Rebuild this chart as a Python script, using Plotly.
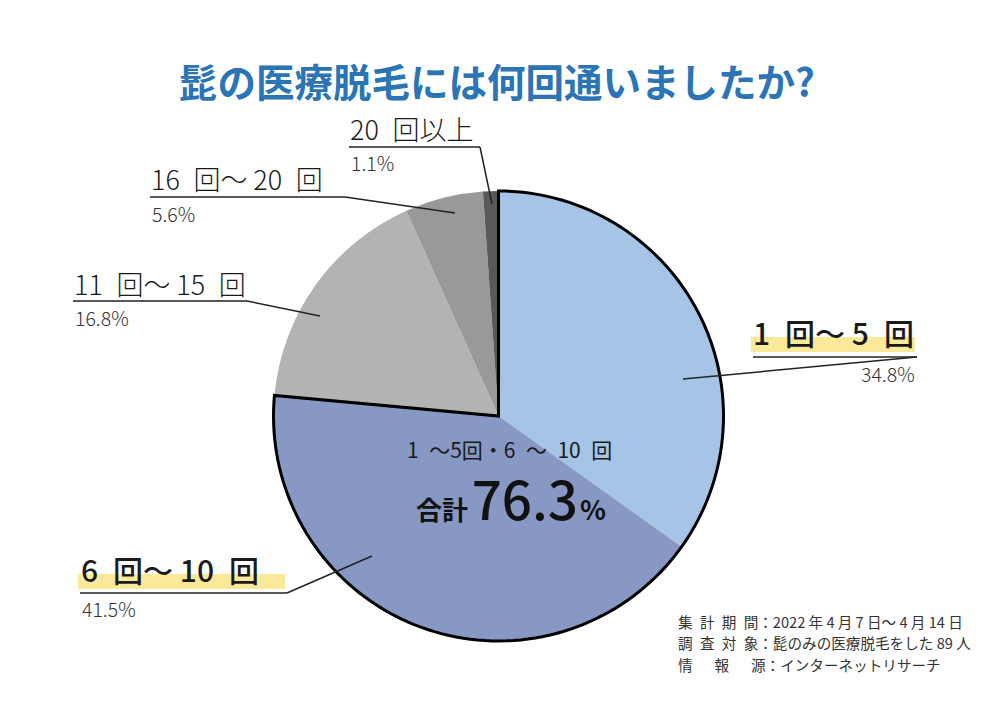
import math
import plotly.graph_objects as go

# ---- data ----
categories = ["1\u2002回〜 5\u2002回", "6\u2002回〜 10\u2002回", "11\u2002回〜 15\u2002回",
              "16\u2002回〜 20\u2002回", "20\u2002回以上"]
values = [34.8, 41.5, 16.8, 5.6, 1.1]
pct_labels = ["34.8%", "41.5%", "16.8%", "5.6%", "1.1%"]
colors = ["#a6c5e6", "#8898c4", "#b3b3b3", "#999999", "#595959"]
title_text = "髭の医療脱毛には何回通いましたか?"
center_line1 = "1\u2002〜5回・6\u2002〜\u200210\u2002回"
total_value = "76.3"
notes = ["集\u2002計\u2002期\u2002間：2022 年 4 月 7 日〜 4 月 14 日",
         "調\u2002査\u2002対\u2002象：髭のみの医療脱毛をした 89 人",
         "情\u2003\u2002報\u2003\u2002源：インターネットリサーチ"]

# page has an 8px body margin; figure fits inside the 1000x707 window
OFF = 8
W, H = 1000 - 2 * OFF, 707 - 2 * OFF
CX, CY, R = 498.5, 416, 225
FONT = "Noto Sans CJK JP"

fig = go.Figure()
fig.add_trace(go.Pie(
    values=values, labels=categories, sort=False, direction="clockwise",
    rotation=0, marker=dict(colors=colors, line=dict(width=0)),
    textinfo="none", hoverinfo="label+percent", showlegend=False,
    domain=dict(x=[(CX - R - OFF) / W, (CX + R - OFF) / W],
                y=[1 - (CY + R - OFF) / H, 1 - (CY - R - OFF) / H]),
))

# outline around the first two slices (computed from data)
tot = sum(values)
a1 = (values[0] + values[1]) / tot * 2 * math.pi
pts = []
n = 150
for i in range(n + 1):
    a = a1 * i / n
    pts.append((CX + R * math.sin(a), CY - R * math.cos(a)))
path = f"M {CX},{CY} " + " ".join(f"L {x:.2f},{y:.2f}" for x, y in pts) + " Z"

shapes = [dict(type="path", path=path, xref="x", yref="y", line=dict(color="black", width=3),
               fillcolor="rgba(0,0,0,0)", layer="above")]

label_layout = [
    dict(tx=751, ty=332, uy=357, ux0=753, ux1=917, lx=683, ly=379, size=30, weight=500, hl=True, px=917, pa="right", py=373),
    dict(tx=79, ty=569, uy=593, ux0=80, ux1=287, lx=372, ly=556, size=30, weight=500, hl=True, px=80, pa="left", py=608),
    dict(tx=72, ty=283, uy=301, ux0=73, ux1=247, lx=320, ly=316, size=27, weight=300, hl=False, px=73, pa="left", py=317),
    dict(tx=149, ty=178, uy=197, ux0=150, ux1=345, lx=455, ly=213, size=27, weight=300, hl=False, px=150, pa="left", py=213),
    dict(tx=348, ty=128, uy=147, ux0=349, ux1=480, lx=492, ly=204, size=27, weight=300, hl=False, px=349, pa="left", py=162),
]

annotations = []
for cat, pct, L in zip(categories, pct_labels, label_layout):
    if L["hl"]:
        shapes.append(dict(type="rect", xref="x", yref="y", x0=L["ux0"] - 2, x1=L["ux1"] - 2,
                           y0=L["ty"] + 5, y1=L["ty"] + 20, fillcolor="#fbe99a",
                           line=dict(width=0), layer="below"))
    shapes.append(dict(type="line", xref="x", yref="y", x0=L["ux0"], x1=L["ux1"],
                       y0=L["uy"], y1=L["uy"], line=dict(color="#222", width=1.5), layer="above"))
    shapes.append(dict(type="line", xref="x", yref="y", x0=L["ux1"], x1=L["lx"],
                       y0=L["uy"], y1=L["ly"], line=dict(color="#222", width=1.5), layer="above"))
    annotations.append(dict(x=L["tx"], y=L["ty"], xref="x", yref="y", text=cat, showarrow=False,
                            xanchor="left", yanchor="middle",
                            font=dict(family=FONT, size=L["size"], color="#1a1a1a", weight=L["weight"])))
    annotations.append(dict(x=L["px"], y=L["py"], xref="x", yref="y", text=pct, showarrow=False,
                            xanchor=L["pa"], yanchor="middle",
                            font=dict(family=FONT, size=19.5, color="#333", weight=300)))

annotations.append(dict(x=497, y=80, xref="x", yref="y", text=title_text, showarrow=False,
                        xanchor="center", yanchor="middle",
                        font=dict(family=FONT, size=38.5, color="#2b74b5", weight=700)))
annotations.append(dict(x=509, y=449, xref="x", yref="y", text=center_line1, showarrow=False,
                        xanchor="center", yanchor="middle",
                        font=dict(family=FONT, size=21, color="#1a1a1a", weight=400)))
annotations.append(dict(x=511, y=497, xref="x", yref="y",
                        text=("<span style='font-size:26px;font-weight:700'>合計</span>"
                              "<span style='font-size:16px'> </span>"
                              f"<span style='font-size:53px'>{total_value}</span>"
                              "<span style='font-size:8px'> </span>"
                              "<span style='font-size:27px;font-weight:700'>%</span>"),
                        showarrow=False, xanchor="center", yanchor="middle",
                        font=dict(family=FONT, size=44, color="#111", weight=500)))
for i, t in enumerate(notes):
    annotations.append(dict(x=676, y=621 + i * 21.5, xref="x", yref="y", text=t, showarrow=False,
                            xanchor="left", yanchor="middle",
                            font=dict(family=FONT, size=14.6, color="#333", weight=400)))

fig.update_layout(
    width=W, height=H, margin=dict(l=0, r=0, t=0, b=0),
    paper_bgcolor="white", plot_bgcolor="rgba(0,0,0,0)",
    xaxis=dict(range=[OFF, OFF + W], visible=False, fixedrange=True, domain=[0, 1]),
    yaxis=dict(range=[OFF + H, OFF], visible=False, fixedrange=True, domain=[0, 1]),
    shapes=shapes, annotations=annotations, showlegend=False,
)
fig.write_html("out.html")
